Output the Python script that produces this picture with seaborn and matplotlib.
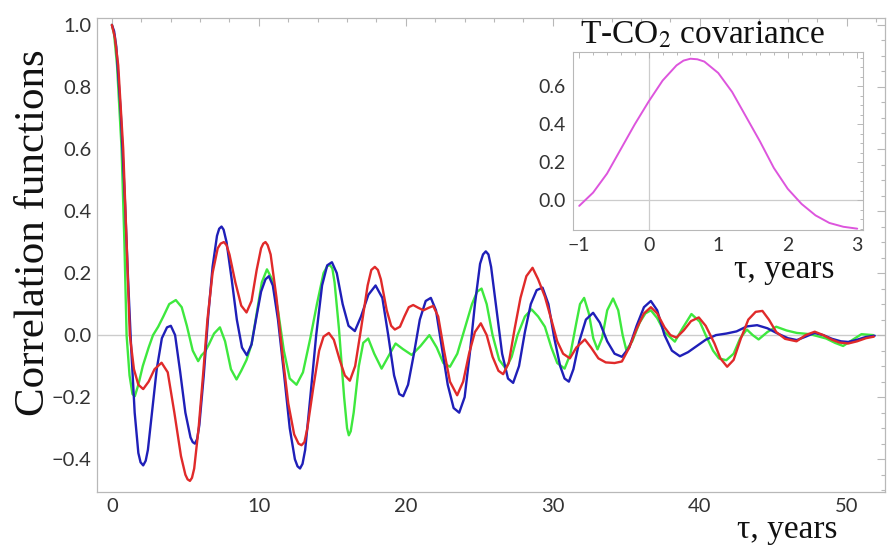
import matplotlib
matplotlib.use("Agg")
import matplotlib.pyplot as plt
import seaborn as sns
import numpy as np
from matplotlib.ticker import MultipleLocator

# ---------------- data ----------------
blue_x = [0.0, 0.15, 0.3, 0.6, 0.9, 1.1, 1.3, 1.55, 1.8, 1.95, 2.13, 2.3, 2.45, 2.75, 3.05, 3.4, 3.75, 4.01, 4.3, 4.65, 5.0,
          5.35, 5.5, 5.65, 5.8, 5.95, 6.25, 6.55, 6.85, 7.15, 7.3, 7.46, 7.6, 7.8, 8.15, 8.5, 8.85, 9.18, 9.5, 9.8, 10.15, 10.45,
          10.68, 10.95, 11.3, 11.7, 12.1, 12.45, 12.63, 12.8, 12.97, 13.15, 13.5, 13.9, 14.3, 14.65, 14.97, 15.3, 15.7, 16.1,
          16.53, 16.95, 17.45, 17.94, 18.4, 18.8, 19.2, 19.55, 19.82, 20.15, 20.55, 20.95, 21.35, 21.7, 22.05,
          22.45, 22.85, 23.25, 23.63, 24.0, 24.35, 24.7, 25.05, 25.25, 25.44, 25.62, 25.8, 26.15, 26.55, 26.95, 27.3, 27.7,
          28.1, 28.5, 28.9, 29.3, 29.7, 30.1, 30.5, 30.8, 31.09, 31.4, 31.8, 32.25, 32.74, 33.2, 33.7, 34.2,
          34.7, 35.2, 35.7, 36.2, 36.67, 37.1, 37.6, 38.1, 38.64, 39.2, 39.8, 40.4, 41.1, 41.8, 42.5, 43.2,
          43.9, 44.6, 45.3, 46.0, 46.6, 47.2, 47.8, 48.4, 49.0, 49.6, 50.1, 50.7, 51.3, 51.9]
blue_y = [1.0, 0.98, 0.93, 0.72, 0.42, 0.18, -0.03, -0.25, -0.38, -0.41, -0.42, -0.405, -0.37, -0.24, -0.11, -0.01, 0.025, 0.03,
          0.0, -0.12, -0.25, -0.33, -0.345, -0.35, -0.335, -0.29, -0.13, 0.06, 0.22, 0.32, 0.343, 0.35, 0.34, 0.3, 0.18, 0.05, -0.04,
          -0.065, -0.03, 0.05, 0.14, 0.18, 0.19, 0.16, 0.05, -0.12, -0.3, -0.4, -0.423, -0.43, -0.415, -0.37, -0.2, 0.0, 0.16,
          0.225, 0.235, 0.2, 0.1, 0.03, 0.013, 0.06, 0.13, 0.16, 0.12, 0.0, -0.13, -0.19, -0.197, -0.16,
          -0.06, 0.05, 0.11, 0.12, 0.08, -0.04, -0.16, -0.235, -0.25, -0.2, -0.06, 0.1, 0.23, 0.26, 0.27, 0.26, 0.22,
          0.09, -0.06, -0.14, -0.154, -0.1, 0.01, 0.1, 0.145, 0.153, 0.1, -0.01, -0.1, -0.14, -0.15, -0.11,
          -0.02, 0.05, 0.072, 0.04, -0.02, -0.06, -0.07, -0.04, 0.03, 0.09, 0.11, 0.08, 0.0, -0.05, -0.068,
          -0.055, -0.035, -0.015, 0.0, 0.005, 0.012, 0.028, 0.032, 0.022, 0.005, -0.01, -0.016, -0.005,
          0.007, 0.0, -0.012, -0.02, -0.022, -0.015, -0.006, -0.002]

red_x = [0.0, 0.2, 0.43, 0.77, 1.0, 1.22, 1.5, 1.8, 2.13, 2.5, 2.9, 3.38, 3.8, 4.25, 4.7, 5.0, 5.15, 5.31, 5.45, 5.6, 5.9,
         6.2, 6.5, 6.85, 7.2, 7.4, 7.62, 7.8, 8.0, 8.4, 8.8, 9.16, 9.5, 9.85, 10.15, 10.3, 10.45, 10.6, 10.8, 11.2, 11.6, 12.0,
         12.4, 12.7, 12.9, 13.1, 13.3, 13.7, 14.1, 14.4, 14.76, 15.1, 15.5, 15.85, 16.19, 16.55, 16.95, 17.4, 17.65, 17.89,
         18.1, 18.3, 18.7, 19.0, 19.25, 19.6, 19.9, 20.2, 20.5, 20.85, 21.2, 21.55, 21.86, 22.2, 22.6, 23.0,
         23.49, 23.9, 24.3, 24.7, 25.1, 25.5, 25.9, 26.3, 26.62, 27.0, 27.4, 27.8, 28.2, 28.62, 29.0,
         29.46, 29.9, 30.3, 30.7, 31.16, 31.6, 32.18, 32.6, 33.1, 33.6, 34.2, 34.7, 35.2, 35.7, 36.2,
         36.67, 37.1, 37.6, 38.0, 38.41, 38.9, 39.4, 39.93, 40.4, 41.0, 41.4, 41.86, 42.3, 42.8, 43.3,
         43.8, 44.26, 44.7, 45.2, 45.8, 46.58, 47.2, 47.82, 48.4, 49.0, 49.5, 50.1, 50.7, 51.3, 51.84]
red_y = [1.0, 0.96, 0.87, 0.6, 0.3, 0.0, -0.11, -0.16, -0.174, -0.15, -0.11, -0.089, -0.12, -0.25, -0.39, -0.45, -0.465,
         -0.47, -0.46, -0.43, -0.3, -0.13, 0.05, 0.2, 0.28, 0.295, 0.3, 0.29, 0.26, 0.17, 0.095, 0.073, 0.11, 0.21, 0.28, 0.295, 0.3,
         0.29, 0.26, 0.12, -0.06, -0.22, -0.32, -0.35, -0.355, -0.345, -0.3, -0.17, -0.05, -0.005, 0.007, -0.015, -0.08, -0.13,
         -0.147, -0.1, 0.02, 0.16, 0.21, 0.22, 0.21, 0.18, 0.08, 0.03, 0.018, 0.027, 0.06, 0.09, 0.097, 0.088, 0.08,
         0.088, 0.094, 0.06, -0.05, -0.15, -0.194, -0.15, -0.06, 0.01, 0.038, 0.0, -0.07, -0.115, -0.126,
         -0.09, 0.02, 0.12, 0.19, 0.217, 0.18, 0.124, 0.05, -0.02, -0.06, -0.075, -0.04, -0.014, -0.04,
         -0.075, -0.088, -0.09, -0.085, -0.04, 0.02, 0.07, 0.09, 0.07, 0.025, 0.0, -0.008, 0.015, 0.045,
         0.057, 0.03, -0.027, -0.075, -0.102, -0.08, -0.01, 0.05, 0.075, 0.078, 0.05, 0.01, -0.012, -0.02,
         0.0, 0.011, 0.0, -0.015, -0.024, -0.027, -0.02, -0.01, -0.005]

green_x = [0.0, 0.15, 0.35, 0.66, 0.85, 1.0, 1.2, 1.4, 1.56, 1.8, 2.1, 2.5, 2.8, 3.15, 3.5, 3.9, 4.35, 4.75, 5.1,
           5.5, 5.87, 6.1, 6.33, 6.6, 6.95, 7.35, 7.7, 8.1, 8.48, 8.8, 9.16, 9.5, 9.85, 10.2, 10.55, 10.9,
           11.3, 11.7, 12.1, 12.56, 13.0, 13.5, 13.95, 14.4, 14.65, 14.83, 15.0, 15.15, 15.45, 15.8, 16.0, 16.12, 16.25, 16.45, 16.8,
           17.1, 17.44, 17.85, 18.35, 18.85, 19.3, 19.8, 20.4, 21.0, 21.6, 22.1, 22.55, 23.0, 23.5, 24.0,
           24.5, 24.85, 25.15, 25.5, 25.9, 26.35, 26.8, 27.2, 27.6, 28.1, 28.55, 29.0, 29.46, 29.9, 30.3,
           30.8, 31.2, 31.6, 31.85, 32.13, 32.45, 32.75, 33.04, 33.35, 33.7, 34.1, 34.45, 34.75, 35.0, 35.4,
           35.9, 36.3, 36.67, 37.1, 37.6, 38.3, 38.8, 39.43, 40.0, 40.4, 40.9, 41.3, 41.8, 42.3, 42.75, 43.2,
           43.6, 44.0, 44.6, 45.2, 45.9, 46.6, 47.5, 48.6, 49.2, 49.75, 50.4, 51.0, 51.8]
green_y = [1.0, 0.97, 0.87, 0.6, 0.3, 0.0, -0.13, -0.19, -0.197, -0.16, -0.1, -0.04, 0.0, 0.027, 0.06, 0.1, 0.113,
           0.09, 0.03, -0.05, -0.084, -0.065, -0.054, -0.03, 0.005, 0.025, -0.02, -0.11, -0.143, -0.115,
           -0.08, -0.03, 0.07, 0.17, 0.212, 0.18, 0.08, -0.05, -0.14, -0.16, -0.12, -0.01, 0.1, 0.2, 0.222, 0.226, 0.215,
           0.17, 0.02, -0.2, -0.3, -0.323, -0.31, -0.25, -0.1, -0.025, -0.011, -0.06, -0.108, -0.065, -0.027, -0.045,
           -0.064, -0.035, 0.0, -0.04, -0.09, -0.102, -0.06, 0.02, 0.1, 0.14, 0.15, 0.1, 0.0, -0.08, -0.108,
           -0.07, 0.0, 0.06, 0.083, 0.06, 0.027, -0.04, -0.09, -0.108, -0.06, 0.04, 0.1, 0.12, 0.07, -0.01,
           -0.046, -0.01, 0.08, 0.118, 0.08, 0.0, -0.048, -0.02, 0.04, 0.07, 0.08, 0.055, 0.01, -0.021, 0.02,
           0.068, 0.043, 0.0, -0.05, -0.075, -0.081, -0.06, -0.01, 0.018, 0.0, -0.014, 0.01, 0.027, 0.015,
           0.007, 0.003, -0.011, -0.025, -0.035, -0.015, 0.003, 0.0]

cov_x = [-1.0, -0.8, -0.6, -0.4, -0.2, 0.0, 0.2, 0.4, 0.5, 0.6, 0.7, 0.8, 1.0, 1.2, 1.4, 1.6, 1.8, 2.0, 2.2, 2.4,
         2.6, 2.8, 3.0]
cov_y = [-0.03, 0.04, 0.14, 0.27, 0.40, 0.52, 0.63, 0.71, 0.735, 0.745, 0.742, 0.73, 0.67, 0.57, 0.44, 0.31, 0.17, 0.06,
         -0.02, -0.08, -0.12, -0.14, -0.15]

main_xticks = [0, 10, 20, 30, 40, 50]
main_yticks = [-0.4, -0.2, 0.0, 0.2, 0.4, 0.6, 0.8, 1.0]
inset_xticks = [-1, 0, 1, 2, 3]
inset_yticks = [0.0, 0.2, 0.4, 0.6]

# ---------------- style ----------------
sns.set_style("white")
plt.rcParams["font.family"] = ["Lato", "DejaVu Sans"]
plt.rcParams["mathtext.fontset"] = "stix"

FRAME = "#b8b8b8"
TICKTXT = "#333333"
SERIF = ["Liberation Serif", "DejaVu Serif"]

fig = plt.figure(figsize=(8.89, 5.56), dpi=100)
ax = fig.add_axes([0.109, 0.115, 0.8865, 0.853])

ax.axhline(0, color="#cccccc", lw=1.0, zorder=0)
kw = dict(lw=1.7, sort=False, solid_joinstyle="round", solid_capstyle="round")
sns.lineplot(x=green_x, y=green_y, ax=ax, color="#3ee83e", **kw)
sns.lineplot(x=blue_x, y=blue_y, ax=ax, color="#1f1fb8", **kw)
sns.lineplot(x=red_x, y=red_y, ax=ax, color="#e02a2a", **kw)

ax.set_xlim(-1.02, 52.6)
ax.set_ylim(-0.506, 1.023)
ax.set_xticks(main_xticks)
ax.set_yticks(main_yticks)
ax.set_yticklabels([f"{v:.1f}".replace("-", "\u2212") for v in main_yticks])
ax.xaxis.set_minor_locator(MultipleLocator(2))
ax.yaxis.set_minor_locator(MultipleLocator(0.05))
ax.tick_params(which="both", direction="in", top=True, right=True, color=FRAME, width=0.8)
ax.tick_params(which="major", length=6)
ax.tick_params(which="minor", length=3)
ax.tick_params(axis="x", labelsize=14.5, labelcolor=TICKTXT, pad=4)
ax.tick_params(axis="y", labelsize=14.5, labelcolor=TICKTXT, pad=4)
for s in ax.spines.values():
    s.set_color(FRAME)
    s.set_linewidth(0.9)
ax.set_xlabel("")
ax.set_ylabel("")

fig.text(0.049, 0.581, "Correlation functions", rotation=90, rotation_mode="anchor",
         ha="center", va="baseline", fontsize=31, family=SERIF, color="#111111")
fig.text(0.885, 0.048, "\u03c4, years", ha="center", va="center", fontsize=24, family=SERIF,
         color="#111111")

# ---------------- inset ----------------
ins = fig.add_axes([0.6445, 0.586, 0.326, 0.320])
ins.set_facecolor("white")
ins.axhline(0, color="#cccccc", lw=0.9, zorder=0)
ins.axvline(0, color="#cccccc", lw=0.9, zorder=0)
sns.lineplot(x=cov_x, y=cov_y, ax=ins, color="#dd55dd", lw=1.4, sort=False, solid_joinstyle="round")
ins.set_xlim(-1.09, 3.08)
ins.set_ylim(-0.158, 0.779)
ins.set_xticks(inset_xticks)
ins.set_xticklabels([str(v).replace("-", "\u2212") for v in inset_xticks])
ins.set_yticks(inset_yticks)
ins.set_yticklabels([f"{v:.1f}" for v in inset_yticks])
ins.xaxis.set_minor_locator(MultipleLocator(0.2))
ins.yaxis.set_minor_locator(MultipleLocator(0.05))
ins.tick_params(which="both", direction="in", top=True, right=True, color=FRAME, width=0.7)
ins.tick_params(which="major", length=4)
ins.tick_params(which="minor", length=2)
ins.tick_params(axis="both", labelsize=14, labelcolor=TICKTXT, pad=5)
for s in ins.spines.values():
    s.set_color(FRAME)
    s.set_linewidth(0.8)
ins.set_xlabel("")
ins.set_ylabel("")

fig.text(0.790, 0.937, "T-CO$_2$ covariance", ha="center", va="center",
         fontsize=24, family=SERIF, color="#111111")
fig.text(0.882, 0.514, "\u03c4, years", ha="center", va="center", fontsize=24, family=SERIF,
         color="#111111")

fig.savefig("out.png", dpi=100, facecolor="white")
